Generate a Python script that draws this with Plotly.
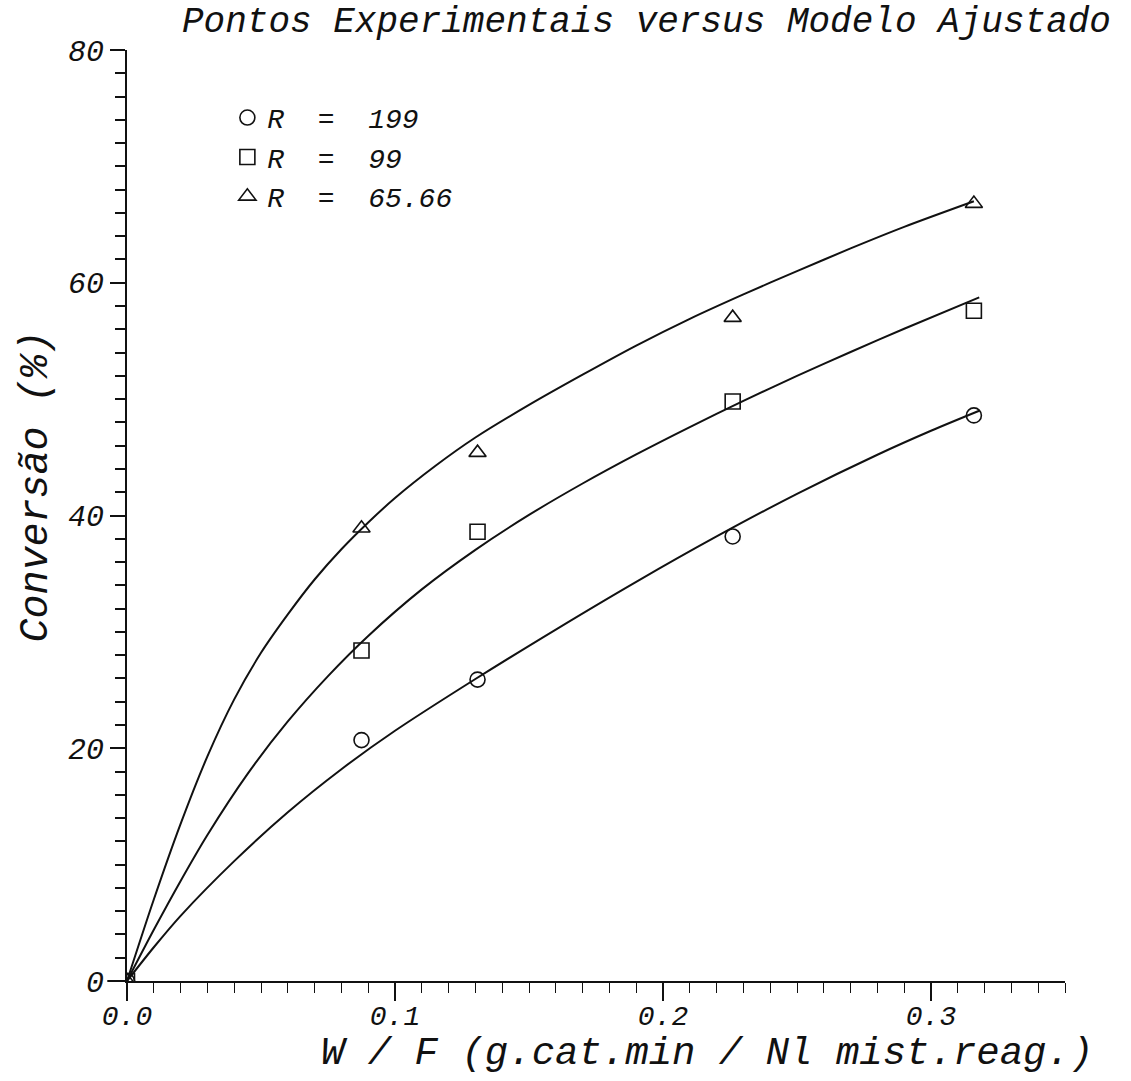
import plotly.graph_objects as go

# Experimental points: W/F (g.cat.min / Nl) vs conversion (%)
wf_points = [0.0, 0.0875, 0.1308, 0.2260, 0.3160]
conv_r199 = [0.0, 20.7, 25.9, 38.2, 48.6]
conv_r99 = [0.0, 28.4, 38.6, 49.8, 57.6]
conv_r6566 = [0.0, 38.9, 45.4, 57.0, 66.8]

# Fitted model curves, sampled along W/F
fit_x_r199 = [0.0, 0.01, 0.02, 0.04, 0.06, 0.08, 0.10, 0.13, 0.16, 0.19,
              0.22, 0.25, 0.28, 0.30, 0.318]
fit_y_r199 = [0.0, 2.9, 5.6, 10.3, 14.5, 18.2, 21.5, 25.95, 30.2, 34.3,
              38.2, 41.86, 45.22, 47.28, 49.0]

fit_x_r99 = [0.0, 0.01, 0.02, 0.03, 0.045, 0.06, 0.075, 0.09, 0.11, 0.13, 0.15,
             0.17, 0.19, 0.21, 0.23, 0.25, 0.27, 0.29, 0.318]
fit_y_r99 = [0.0, 4.4, 8.6, 12.55, 17.8, 22.3, 26.2, 29.65, 33.65, 37.05, 40.05,
             42.75, 45.25, 47.6, 49.85, 52.0, 54.05, 56.05, 58.75]

fit_x_r6566 = [0.0, 0.01, 0.02, 0.03, 0.04, 0.05, 0.06, 0.07, 0.08, 0.09, 0.10, 0.115,
               0.13, 0.15, 0.17, 0.19, 0.21, 0.23, 0.25, 0.27, 0.29, 0.316]
fit_y_r6566 = [0.0, 7.0, 13.5, 19.3, 24.2, 28.2, 31.5, 34.5, 37.1, 39.4, 41.5, 44.25,
               46.7, 49.5, 52.1, 54.6, 56.9, 59.0, 61.0, 62.95, 64.8, 67.0]

series_names = ["R  =  199", "R  =  99", "R  =  65.66"]
x_ticks = [0.0, 0.1, 0.2, 0.3]
x_tick_text = ["0.0", "0.1", "0.2", "0.3"]
y_ticks = [0, 20, 40, 60, 80]
y_tick_text = ["0", "20", "40", "60", "80"]

FONT = "Liberation Mono"
INK = "#111111"

fig = go.Figure()

for fx, fy in [(fit_x_r199, fit_y_r199), (fit_x_r99, fit_y_r99), (fit_x_r6566, fit_y_r6566)]:
    fig.add_trace(go.Scatter(
        x=fx, y=fy, mode="lines", showlegend=False, hoverinfo="skip",
        line=dict(color=INK, width=2, shape="spline", smoothing=0.8),
    ))

for conv, name, sym in [(conv_r199, series_names[0], "circle-open"),
                        (conv_r99, series_names[1], "square-open"),
                        (conv_r6566, series_names[2], "triangle-up-open")]:
    fig.add_trace(go.Scatter(
        x=wf_points, y=conv, mode="markers", name=name,
        marker=dict(symbol=sym, size=15, color=INK, line=dict(width=1.6, color=INK)),
    ))

x_tick_font = dict(family=FONT, size=28, color=INK, style="italic")
y_tick_font = dict(family=FONT, size=30, color=INK, style="italic")

fig.update_xaxes(
    range=[0, 0.35], tickvals=x_ticks, ticktext=x_tick_text,
    showline=True, linecolor=INK, linewidth=2, showgrid=False, zeroline=False,
    ticks="outside", ticklen=18, tickwidth=1.5, tickcolor=INK, tickfont=x_tick_font,
    ticklabelstandoff=-10,
    minor=dict(dtick=0.01, tick0=0, ticks="outside", ticklen=10, tickwidth=1, tickcolor=INK,
               showgrid=False),
)
fig.update_yaxes(
    range=[0, 80], tickvals=y_ticks, ticktext=y_tick_text,
    showline=True, linecolor=INK, linewidth=2, showgrid=False, zeroline=False,
    ticks="outside", ticklen=15, tickwidth=2, tickcolor=INK, tickfont=y_tick_font,
    minor=dict(dtick=2, tick0=0, ticks="outside", ticklen=10, tickwidth=1.5, tickcolor=INK,
               showgrid=False),
)

fig.update_layout(
    width=1131, height=1081,
    margin=dict(l=127, r=66, t=50, b=100),
    paper_bgcolor="white", plot_bgcolor="white",
    showlegend=True,
    legend=dict(
        x=0.107, y=0.954, xanchor="left", yanchor="top",
        font=dict(family=FONT, size=28, color=INK, style="italic"),
        bgcolor="rgba(0,0,0,0)", itemwidth=30, tracegroupgap=0,
    ),
    annotations=[
        dict(text="Pontos Experimentais versus Modelo Ajustado",
             xref="paper", yref="paper", x=0.057, y=1.030, xanchor="left", yanchor="middle",
             showarrow=False, font=dict(family=FONT, size=36, color=INK, style="italic")),
        dict(text="Conversão (%)",
             xref="paper", yref="paper", x=-0.0975, y=0.5306, xanchor="center", yanchor="middle",
             textangle=-90, showarrow=False,
             font=dict(family=FONT, size=40, color=INK, style="italic")),
        dict(text="W / F (g.cat.min / Nl mist.reag.)",
             xref="paper", yref="paper", x=0.6186, y=-0.0784, xanchor="center", yanchor="middle",
             showarrow=False, font=dict(family=FONT, size=39, color=INK, style="italic")),
    ],
    shapes=[
        # short extension of the baseline to the left of the origin
        dict(type="line", xref="paper", yref="paper", x0=-0.021, x1=0, y0=0, y1=0,
             line=dict(color=INK, width=2)),
    ],
)

fig.write_html("out.html")
